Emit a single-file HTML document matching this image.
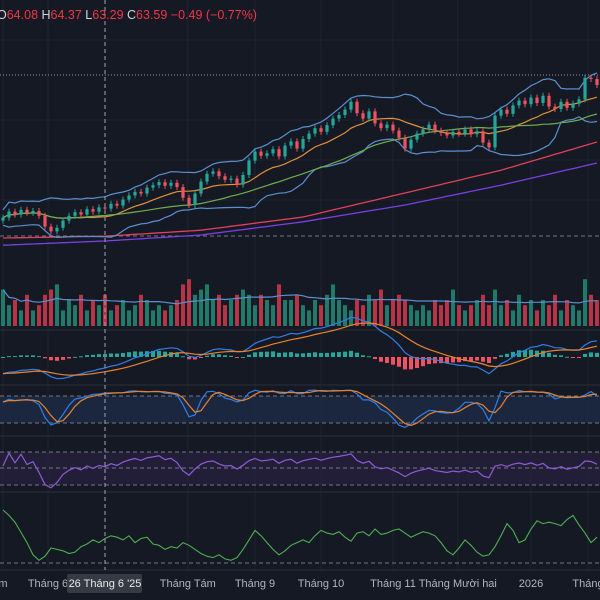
<!DOCTYPE html>
<html><head><meta charset="utf-8">
<style>
html,body{margin:0;padding:0;background:#151924;width:600px;height:600px;overflow:hidden;font-family:"Liberation Sans",sans-serif}
svg{display:block}
</style></head>
<body>
<svg id="chart" width="600" height="600" viewBox="0 0 600 600">
<rect x="0" y="0" width="600" height="600" fill="#151924"/>
<g id="grid"></g>
<g id="panes"></g>
<g id="series"></g>
<g id="axis"></g>
<text x="-3" y="19" font-size="12.5"><tspan fill="#d1d4dc">O</tspan><tspan fill="#f23645">64.08 </tspan><tspan fill="#d1d4dc">H</tspan><tspan fill="#f23645">64.37 </tspan><tspan fill="#d1d4dc">L</tspan><tspan fill="#f23645">63.29 </tspan><tspan fill="#d1d4dc">C</tspan><tspan fill="#f23645">63.59 −0.49 (−0.77%)</tspan></text>
</svg>
<script>
const closes=[41.5,42.5,42.0,42.8,42.3,42.6,41.8,40.0,39.2,39.8,
41.0,41.8,42.4,42.0,42.9,42.5,43.2,43.0,43.8,43.5,
44.5,45.2,45.8,45.5,46.5,46.9,47.4,46.8,47.3,46.6,
44.8,43.6,45.5,47.5,48.8,49.2,48.4,47.8,48.0,47.0,
48.6,51.0,52.5,51.8,52.2,52.9,51.7,53.5,54.2,53.0,
54.6,55.5,56.4,55.8,56.9,58.0,58.6,59.5,60.8,58.9,
58.0,59.2,57.2,56.4,57.0,56.0,54.8,53.0,54.5,55.5,
56.2,57.0,56.0,55.6,55.2,55.8,55.5,56.2,55.4,55.9,
54.0,53.2,58.5,59.5,58.8,60.2,61.0,60.4,61.5,60.6,
61.8,60.0,59.6,60.8,59.8,60.5,61.2,64.8,64.6,63.6];
const volumes=[7,4,5,3,6,3,4,6,7,8,
3,5,4,6,3,5,4,6,3,4,
5,3,4,6,5,3,4,3,4,5,
8,9,6,7,8,5,6,4,5,6,
7,6,4,6,5,4,8,5,5,6,
4,3,5,4,6,8,5,4,3,5,
4,6,5,7,4,5,6,5,4,3,
4,3,5,4,5,7,4,3,4,5,
6,4,7,4,5,3,6,4,5,3,
5,4,6,3,5,4,3,9,6,5];
const slowIdx=[0,17,33,50,67,83,99];
const ma200=[38.1,38.4,39.4,41.6,45.6,49.4,54.1];
const ma300=[36.9,37.6,38.6,40.8,43.6,46.9,50.6];
const trend=[78,70,60,45,30,12,4,10,22,20,18,14,16,24,28,34,30,36,40,38,
34,40,30,36,38,28,26,20,24,22,30,26,20,14,10,8,12,6,4,8,
20,34,48,40,30,20,12,18,26,30,34,30,40,48,44,42,46,38,32,44,
46,40,50,42,44,48,50,44,38,42,46,44,40,30,18,12,22,34,26,16,
10,12,24,40,58,48,30,34,50,62,58,60,58,55,64,70,56,44,30,38];
const monthLabels=["m","Tháng 6","Tháng Tám","Tháng 9","Tháng 10","Tháng 11","Tháng Mười hai","2026","Tháng"];
const monthIdx=[0,7.5,30.8,42,53,65,75.8,88,97.5];

const NS="http://www.w3.org/2000/svg";
function mk(parent,tag,attrs){const e=document.createElementNS(NS,tag);for(const k in attrs)e.setAttribute(k,attrs[k]);parent.appendChild(e);return e;}
const N=closes.length;
const xAt=i=>3+i*(594/(N-1));
const yP=p=>85-(p-63.6)*6;
const G=document.getElementById('grid'),P=document.getElementById('panes'),S=document.getElementById('series'),A=document.getElementById('axis');

monthIdx.forEach((m,k)=>{const l=mk(G,'line',{x1:xAt(m),x2:xAt(m),y1:0,y2:570,stroke:'#1f2431','stroke-width':1});

});
[40,120,160,200].forEach(y=>{const l=mk(G,'line',{x1:0,x2:600,y1:y,y2:y,stroke:'#1f2431','stroke-width':1});

});
[330,385,436,492,570].forEach(y=>{const l=mk(G,'line',{x1:0,x2:600,y1:y,y2:y,stroke:'#2a2e39','stroke-width':1});

});

let r=mk(P,'rect',{x:0,y:396,width:600,height:27,fill:'#1b2a45','fill-opacity':0.8});


r=mk(P,'rect',{x:0,y:452,width:600,height:33,fill:'#2a2140','fill-opacity':0.7});


[[396,'stoch-upper'],[423,'stoch-lower'],[452,'rsi-upper'],[468,'rsi-middle'],[485,'rsi-lower'],[563,'trend-level'],[236,'crosshair-h']].forEach(([y,n])=>{
const l=mk(P,'line',{x1:0,x2:600,y1:y,y2:y,stroke:'#8a8e9a','stroke-width':1,'stroke-dasharray':'4 3','stroke-opacity':0.8});

});
let pl=mk(P,'line',{x1:0,x2:600,y1:75,y2:75,stroke:'#9598a1','stroke-width':1,'stroke-dasharray':'1 2'});



const opens=closes.map((c,i)=>i?closes[i-1]:c-0.5);
const highs=closes.map((c,i)=>Math.max(c,opens[i])+0.5);
const lows=closes.map((c,i)=>Math.min(c,opens[i])-0.5);

function sma(arr,n){return arr.map((v,i)=>{const s=arr.slice(Math.max(0,i-n+1),i+1);return s.reduce((a,b)=>a+b,0)/s.length;});}
function ema(arr,n){const k=2/(n+1);let e=arr[0];return arr.map(v=>e=v*k+e*(1-k));}
function path(vals,xf,yf,color,name,w){let d='';vals.forEach((v,i)=>{d+=(i?'L':'M')+xf(i).toFixed(1)+' '+yf(v).toFixed(1);});
const p=mk(S,'path',{d:d,fill:'none',stroke:color,'stroke-width':w||1.2});

return p;}

const interp=(idx,vals)=>closes.map((_,i)=>{for(let k=0;k<idx.length-1;k++){if(i>=idx[k]&&i<=idx[k+1]){const t=(i-idx[k])/(idx[k+1]-idx[k]);return vals[k]+t*(vals[k+1]-vals[k]);}}return vals[vals.length-1];});
path(interp(slowIdx,ma300),xAt,yP,'#7b3fe4','ma-purple',1.3);
path(interp(slowIdx,ma200),xAt,yP,'#e0405a','ma-red',1.3);

const mid=sma(closes,12);
const sd=closes.map((_,i)=>{const s=closes.slice(Math.max(0,i-11),i+1);const m=s.reduce((a,b)=>a+b,0)/s.length;return Math.sqrt(s.reduce((a,b)=>a+(b-m)*(b-m),0)/s.length)+0.8;});
path(mid.map((m,i)=>m+1.6*sd[i]),xAt,yP,'#5b8fd0','bb-upper',1.2);
path(mid.map((m,i)=>m-1.6*sd[i]),xAt,yP,'#5b8fd0','bb-lower',1.2);
path(mid,xAt,yP,'#e0913a','bb-basis',1.2);
path(sma(closes,30),xAt,yP,'#6fae4f','ma-green',1.2);

closes.forEach((c,i)=>{const o=opens[i];const up=c>=o;const col=up?'#26a69a':'#ef5361';const x=xAt(i);
const w=mk(S,'line',{x1:x,x2:x,y1:yP(highs[i]),y2:yP(lows[i]),stroke:col,'stroke-width':1});


const b=mk(S,'rect',{x:x-1.6,y:yP(Math.max(o,c)),width:3.2,height:Math.max(1,Math.abs(yP(o)-yP(c))),fill:col});

});

const vMax=10,vBase=326,vH=52;
volumes.forEach((v,i)=>{const up=closes[i]>=opens[i];
const b=mk(S,'rect',{x:xAt(i)-2,y:vBase-v/vMax*vH,width:4,height:v/vMax*vH,fill:up?'#1f7a6a':'#b83345'});

});
path(sma(volumes,20),xAt,v=>vBase-v/vMax*vH,'#5b8fd0','volume-ma',1.2);

const e12=ema(closes,12),e26=ema(closes,26);
const macd=e12.map((v,i)=>v-e26[i]);
const sig=ema(macd,9);
const mz=357;
macd.forEach((m,i)=>{const h=m-sig[i];const col=h>=0?'#26a69a':'#ef5361';
const b=mk(S,'rect',{x:xAt(i)-2,y:h>=0?mz-h*14:mz,width:4,height:Math.max(1,Math.abs(h)*14),fill:col});

});
path(macd,xAt,v=>352-(v-1.2)*18,'#2f7ee8','macd-line',1.2);
path(sig,xAt,v=>352-(v-1.2)*18,'#e8822f','macd-signal',1.2);

const kRaw=closes.map((c,i)=>{const hh=Math.max(...highs.slice(Math.max(0,i-13),i+1));const ll=Math.min(...lows.slice(Math.max(0,i-13),i+1));return hh===ll?50:(c-ll)/(hh-ll)*100;});
const kS=sma(kRaw,2),dS=sma(kS,3);
const yS=v=>430-v*0.42;
path(kS,xAt,yS,'#2f7ee8','stoch-k',1.2);
path(dS,xAt,yS,'#e8822f','stoch-d',1.2);

let ag=0,al=0;const rsi=closes.map((c,i)=>{if(!i)return 60;const d=c-closes[i-1];ag=(ag*13+Math.max(d,0))/14;al=(al*13+Math.max(-d,0))/14;return al===0?80:100-100/(1+ag/al);});
path(rsi,xAt,v=>505-v*0.65,'#8e5bd6','rsi-line',1.2);

path(trend,xAt,v=>563-v*0.68,'#4caf50','trend-line',1.1);

const ch=mk(S,'line',{x1:105,x2:105,y1:0,y2:570,stroke:'#a0a3ab','stroke-width':1,'stroke-dasharray':'4 3'});



monthLabels.forEach((t,k)=>{const tx=mk(A,'text',{x:xAt(monthIdx[k]),y:587,'font-size':11,fill:'#b2b5be','text-anchor':'middle'});
tx.textContent=t;

});
const box=mk(A,'rect',{x:67,y:574,width:75,height:19,fill:'#363a45',rx:2});


const bt=mk(A,'text',{x:105,y:587,'font-size':11,fill:'#e8e9ec','text-anchor':'middle'});
bt.textContent="26 Tháng 6 '25";


</script>
</body></html>
